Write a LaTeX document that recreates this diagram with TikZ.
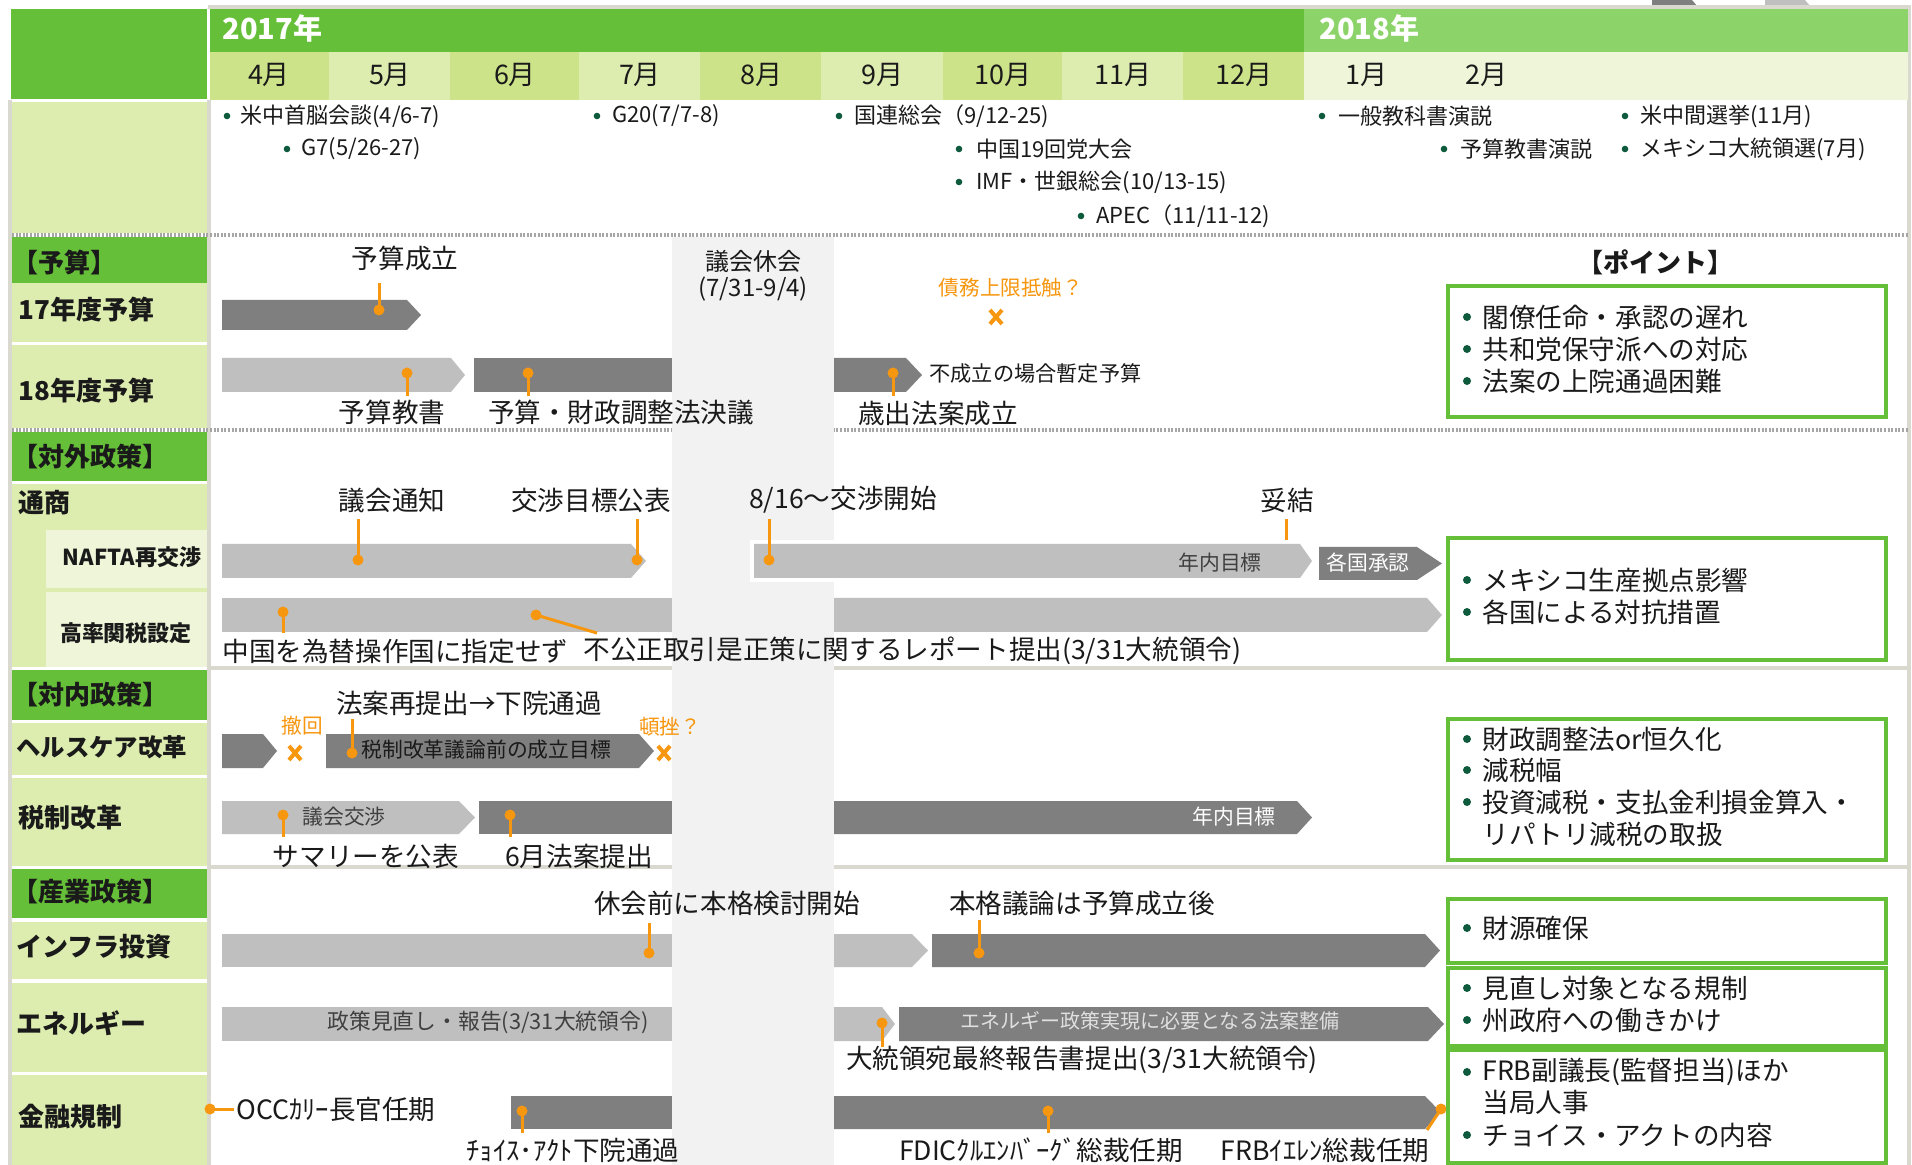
\documentclass[tikz,border=0pt]{standalone}
\usepackage{fontspec}
\setmainfont{Noto Sans CJK JP}
\usetikzlibrary{calc}
\definecolor{gA}{HTML}{66BF38}
\definecolor{gB}{HTML}{8CD46A}
\definecolor{mD}{HTML}{CDE38A}
\definecolor{mL}{HTML}{DDEDB0}
\definecolor{mX}{HTML}{EEF5D8}
\definecolor{dk}{HTML}{7F7F7F}
\definecolor{lt}{HTML}{BFBFBF}
\definecolor{bandc}{HTML}{F2F2F2}
\definecolor{org}{HTML}{F7960F}
\definecolor{bul}{HTML}{0E5A3C}
\definecolor{sepc}{HTML}{D9D9D0}
\definecolor{dotc}{HTML}{A6A6A6}
\definecolor{txt}{HTML}{1A1A1A}
\definecolor{bartxt}{HTML}{404040}
\newcommand{\chev}[6]{\fill[#6] (#1,#4) -- (#2,#4) -- (#3,{(#4+#5)/2}) -- (#2,#5) -- (#1,#5) -- cycle;}
\newcommand{\mypin}[3]{\coordinate (#1a) at (#2); \coordinate (#1b) at (#3); \draw[pinl] (#1a) -- (#1b); \fill[org] (#1b) circle (5.5);}
\newcommand{\xmk}[2]{\draw[org, line width=2pt] ({#1-6},{#2-7}) -- ({#1+6},{#2+7}) ({#1-6},{#2+7}) -- ({#1+6},{#2-7});}
\newcommand{\bdot}[2]{\fill[bul] (#1,#2) circle (3.3);}
\newcommand{\pdot}[2]{\fill[bul] (#1,#2) circle (4);}
\begin{document}
\begin{tikzpicture}[x=0.5pt,y=-0.5pt,
  T/.style={inner sep=0pt, text=txt, font=\fontsize{13.3}{15}\selectfont},
  S/.style={inner sep=0pt, text=txt, font=\fontsize{11}{13}\selectfont},
  BT/.style={inner sep=0pt, text=bartxt, font=\fontsize{10.4}{12}\selectfont},
  BW/.style={inner sep=0pt, text=white, font=\fontsize{10.4}{12}\selectfont},
  L/.style={inner sep=0pt, text=txt, font=\bfseries\fontsize{13}{15}\selectfont},
  LS/.style={inner sep=0pt, text=txt, font=\bfseries\fontsize{11}{12}\selectfont},
  H/.style={inner sep=0pt, text=txt, font=\bfseries\fontsize{13}{14}\selectfont},
  O/.style={inner sep=0pt, text=org, font=\fontsize{10.3}{12}\selectfont},
  M/.style={inner sep=0pt, text=txt, font=\fontsize{13.5}{15}\selectfont},
  Y/.style={inner sep=0pt, text=white, font=\bfseries\fontsize{14.5}{16}\selectfont},
  P/.style={inner sep=0pt, text=txt, font=\fontsize{13.3}{15}\selectfont},
  pinl/.style={draw=org, line width=1.5pt},
  pbox/.style={draw=gA, line width=1.6pt, fill=white},
  dotl/.style={draw=dotc, line width=1.8pt, dash pattern=on 1pt off 0.8pt},
  sepl/.style={draw=sepc, line width=1.6pt}]
\useasboundingbox (0,0) rectangle (1912,1165);
\fill[white] (0,0) rectangle (1912,1165);
% partial legend at top
\fill[dk] (1652,0) -- (1692,0) -- (1697,6) -- (1652,6) -- cycle;
\fill[lt] (1765,0) -- (1805,0) -- (1810,6) -- (1765,6) -- cycle;
% frame
\draw[sepl] (208,7) -- (1909,7) -- (1909,1165);
\draw[sepl] (10,100) -- (10,1165);
\draw[sepl] (209,100) -- (209,1165);
% header
\fill[gA] (11,9) rectangle (207,99);
\fill[gA] (210,9) rectangle (1304,52);
\fill[gB] (1304,9) rectangle (1908,52);
\fill[mD] (210,52) rectangle (329,100);
\fill[mL] (329,52) rectangle (450,100);
\fill[mD] (450,52) rectangle (579,100);
\fill[mL] (579,52) rectangle (700,100);
\fill[mD] (700,52) rectangle (821,100);
\fill[mL] (821,52) rectangle (943,100);
\fill[mD] (943,52) rectangle (1062,100);
\fill[mL] (1062,52) rectangle (1183,100);
\fill[mD] (1183,52) rectangle (1304,100);
\fill[mX] (1304,52) rectangle (1908,100);
\node[Y,anchor=west] (y17) at (222,28) {2017年};
\node[Y,anchor=west] (y18) at (1319,28) {2018年};
\node[M] (m4) at (269,75) {4月};
\node[M] (m5) at (390,75) {5月};
\node[M] (m6) at (515,75) {6月};
\node[M] (m7) at (640,75) {7月};
\node[M] (m8) at (761,75) {8月};
\node[M] (m9) at (882,75) {9月};
\node[M] (m10) at (1003,75) {10月};
\node[M] (m11) at (1123,75) {11月};
\node[M] (m12) at (1244,75) {12月};
\node[M] (m1) at (1366,75) {1月};
\node[M] (m2) at (1486,75) {2月};
% left column cells
\fill[mL] (12,102) rectangle (207,233);
\fill[gA] (12,237) rectangle (207,283);
\fill[mL] (12,283) rectangle (207,342);
\fill[mL] (12,345) rectangle (207,428);
\fill[gA] (12,432) rectangle (207,481);
\fill[mL] (12,484) rectangle (207,667);
\fill[mX] (46,530) rectangle (207,588);
\fill[mX] (46,592) rectangle (207,667);
\fill[gA] (12,670) rectangle (207,720);
\fill[mL] (12,723) rectangle (207,775);
\fill[mL] (12,778) rectangle (207,866);
\fill[gA] (12,869) rectangle (207,918);
\fill[mL] (12,922) rectangle (207,979);
\fill[mL] (12,983) rectangle (207,1072);
\fill[mL] (12,1075) rectangle (207,1165);
% separators
\draw[dotl] (12,235) -- (1908,235);
\draw[dotl] (12,430) -- (1908,430);
\draw[sepl] (210,668) -- (1908,668);
\draw[sepl] (210,867) -- (1908,867);
% left labels
\node[H,anchor=west] (hyosan) at (12,262) {【予算】};
\node[L,anchor=west] (l17) at (18,310) {17年度予算};
\node[L,anchor=west] (l18) at (18,391) {18年度予算};
\node[H,anchor=west] (htaigai) at (12,457) {【対外政策】};
\node[L,anchor=west] (ltsusho) at (18,503) {通商};
\node[LS] (lnafta) at (132,557) {NAFTA再交渉};
\node[LS] (lkanzei) at (126,633) {高率関税設定};
\node[H,anchor=west] (htainai) at (12,695) {【対内政策】};
\node[L,anchor=west,font=\bfseries\fontsize{12.2}{15}\selectfont] (lhc) at (16,747) {ヘルスケア改革};
\node[L,anchor=west] (lzei) at (18,818) {税制改革};
\node[H,anchor=west] (hsangyo) at (12,892) {【産業政策】};
\node[L,anchor=west] (linfra) at (16,947) {インフラ投資};
\node[L,anchor=west] (lene) at (16,1023) {エネルギー};
\node[L,anchor=west] (lkin) at (18,1117) {金融規制};
% events
\bdot{227}{116}\node[S,anchor=west] (e1) at (240,116) {米中首脳会談(4/6-7)};
\bdot{287}{149}\node[S,anchor=west] (e2) at (301,149) {G7(5/26-27)};
\bdot{597}{116}\node[S,anchor=west] (e3) at (612,116) {G20(7/7-8)};
\bdot{839}{116}\node[S,anchor=west] (e4) at (854,116) {国連総会（9/12-25)};
\bdot{959}{149}\node[S,anchor=west] (e5) at (976,149) {中国19回党大会};
\bdot{959}{182}\node[S,anchor=west] (e6) at (976,182) {IMF・世銀総会(10/13-15)};
\bdot{1081}{216}\node[S,anchor=west] (e7) at (1096,216) {APEC（11/11-12)};
\bdot{1322}{116}\node[S,anchor=west] (e8) at (1338,116) {一般教科書演説};
\bdot{1444}{149}\node[S,anchor=west] (e9) at (1460,149) {予算教書演説};
\bdot{1625}{116}\node[S,anchor=west] (e10) at (1640,116) {米中間選挙(11月)};
\bdot{1625}{149}\node[S,anchor=west] (e11) at (1640,149) {メキシコ大統領選(7月)};
% bars: budget
\chev{222}{407}{421}{300}{330}{dk}
\chev{222}{451}{465}{358}{392}{lt}
\fill[dk] (474,358) rectangle (700,392);
\chev{834}{906}{922}{358}{392}{dk}
% bars: trade
\chev{222}{631}{646}{544}{578}{lt}
\chev{1319}{1417}{1442}{547}{580}{dk}
\fill[lt] (222,598) rectangle (700,632);
\chev{834}{1427}{1442}{598}{632}{lt}
% bars: domestic
\chev{222}{263}{277}{734}{768}{dk}
\chev{326}{639}{654}{734}{768}{dk}
\chev{222}{459}{475}{801}{834}{lt}
\fill[dk] (479,801) rectangle (700,834);
\chev{834}{1297}{1312}{801}{834}{dk}
% bars: industry
\fill[lt] (222,934) rectangle (700,967);
\chev{834}{912}{928}{934}{967}{lt}
\chev{932}{1425}{1440}{934}{967}{dk}
\fill[lt] (222,1007) rectangle (700,1041);
\chev{834}{882}{895}{1007}{1041}{lt}
\chev{899}{1428}{1444}{1007}{1041}{dk}
\fill[dk] (511,1096) rectangle (700,1129);
\chev{834}{1425}{1441}{1096}{1129}{dk}
% recess band
\fill[bandc] (672,237) rectangle (834,1165);
\node[T,font=\fontsize{12}{14}\selectfont] (kyukai) at (753,261) {議会休会};
\node[T,font=\fontsize{12}{14}\selectfont] (kyukai2) at (753,289) {(7/31-9/4)};
% NAFTA second bar over band
\fill[white] (750,540) rectangle (1300,582);
\chev{754}{1300}{1312}{544}{578}{lt}
% bar texts
\node[BT] (t1) at (1220,563) {年内目標};
\node[BW] (t2) at (1368,563) {各国承認};
\node[BT,text=txt,anchor=west] (t3) at (361,750) {税制改革議論前の成立目標};
\node[BT] (t4) at (344,817) {議会交渉};
\node[BW] (t5) at (1234,817) {年内目標};
\node[BT,font=\fontsize{10.9}{12}\selectfont] (t6) at (488,1022) {政策見直し・報告(3/31大統領令)};
\node[BW,text=white!88!black,font=\fontsize{10}{12}\selectfont] (t7) at (1150,1021) {エネルギー政策実現に必要となる法案整備};
% budget labels and pins
\node[T] (n1) at (405,258) {予算成立};
\mypin{pa}{379,283}{379,310}
\node[O] (n2) at (1011,288) {債務上限抵触？};
\xmk{996}{317}
\mypin{pb}{407,396}{407,373}
\node[T] (n3) at (392,412) {予算教書};
\mypin{pc}{528,396}{528,373}
\node[T] (n4) at (621,412) {予算・財政調整法決議};
\mypin{pd}{893,396}{893,373}
\node[T] (n5) at (938,413) {歳出法案成立};
\node[S,anchor=west,font=\fontsize{10.6}{13}\selectfont] (n6) at (929,373) {不成立の場合暫定予算};
% trade labels and pins
\node[T] (n7) at (392,500) {議会通知};
\mypin{pe}{358,519}{358,560}
\node[T] (n8) at (591,500) {交渉目標公表};
\mypin{pf}{637,519}{637,560}
\node[T] (n9) at (843,500) {8/16～交渉開始};
\mypin{pg}{769,519}{769,560}
\node[T] (n10) at (1287,500) {妥結};
\coordinate (pha) at (1286,519); \coordinate (phb) at (1286,540);
\draw[pinl] (pha) -- (phb);
\mypin{pi}{283,633}{283,612}
\mypin{pj}{597,633}{536,615}
\node[T,anchor=west] (n11) at (222,651) {中国を為替操作国に指定せず};
\node[T,anchor=west] (n12) at (583,651) {不公正取引是正策に関するレポート提出(3/31大統領令)};
% domestic labels and pins
\node[T] (n13) at (469,703) {法案再提出→下院通過};
\node[O] (n14) at (302,726) {撤回};
\xmk{295}{753}
\mypin{pk}{352,719}{352,753}
\node[O] (n15) at (670,727) {頓挫？};
\xmk{664}{753}
\mypin{pl}{283,837}{283,815}
\node[T] (n16) at (366,856) {サマリーを公表};
\mypin{pm}{510,837}{510,815}
\node[T] (n17) at (579,856) {6月法案提出};
% industry labels and pins
\node[T] (n18) at (727,903) {休会前に本格検討開始};
\mypin{pn}{649,923}{649,953}
\node[T] (n19) at (1082,903) {本格議論は予算成立後};
\mypin{po}{979,920}{979,953}
\mypin{pp}{882,1047}{882,1023}
\node[T] (n20) at (1082,1060) {大統領宛最終報告書提出(3/31大統領令)};
\coordinate (pqa) at (234,1109); \coordinate (pqb) at (210,1109);
\draw[pinl] (pqa) -- (pqb); \fill[org] (pqb) circle (5.5);
\node[T,anchor=west] (n21) at (236,1109) {OCCｶﾘｰ長官任期};
\mypin{pr}{522,1133}{522,1111}
\node[T] (n22) at (573,1150) {ﾁｮｲｽ･ｱｸﾄ下院通過};
\mypin{ps}{1048,1133}{1048,1111}
\node[T] (n23) at (1041,1150) {FDICｸﾙｴﾝﾊﾞｰｸﾞ総裁任期};
\mypin{pt}{1427,1130}{1441,1109}
\node[T] (n24) at (1325,1150) {FRBｲｴﾚﾝ総裁任期};
% point boxes
\node[H,font=\bfseries\fontsize{13}{14}\selectfont] (pt0) at (1655,262) {【ポイント】};
\draw[pbox] (1448,286) rectangle (1886,417);
\pdot{1467}{317}\node[P,anchor=west] (q1) at (1482,317) {閣僚任命・承認の遅れ};
\pdot{1467}{349}\node[P,anchor=west] (q2) at (1482,349) {共和党保守派への対応};
\pdot{1467}{381}\node[P,anchor=west] (q3) at (1482,381) {法案の上院通過困難};
\draw[pbox] (1448,538) rectangle (1886,660);
\pdot{1467}{580}\node[P,anchor=west] (q4) at (1482,580) {メキシコ生産拠点影響};
\pdot{1467}{612}\node[P,anchor=west] (q5) at (1482,612) {各国による対抗措置};
\draw[pbox] (1448,719) rectangle (1886,860);
\pdot{1467}{739}\node[P,anchor=west] (q6) at (1482,739) {財政調整法or恒久化};
\pdot{1467}{770}\node[P,anchor=west] (q7) at (1482,770) {減税幅};
\pdot{1467}{802}\node[P,anchor=west] (q8) at (1482,802) {投資減税・支払金利損金算入・};
\node[P,anchor=west] (q9) at (1482,834) {リパトリ減税の取扱};
\draw[pbox] (1448,899) rectangle (1886,963);
\pdot{1467}{928}\node[P,anchor=west] (q10) at (1482,928) {財源確保};
\draw[pbox] (1448,968) rectangle (1886,1046);
\pdot{1467}{988}\node[P,anchor=west] (q11) at (1482,988) {見直し対象となる規制};
\pdot{1467}{1020}\node[P,anchor=west] (q12) at (1482,1020) {州政府への働きかけ};
\draw[pbox] (1448,1050) rectangle (1886,1163);
\pdot{1467}{1072}\node[P,anchor=west] (q13) at (1482,1072) {FRB副議長(監督担当)ほか};
\node[P,anchor=west] (q14) at (1482,1102) {当局人事};
\pdot{1467}{1135}\node[P,anchor=west] (q15) at (1482,1135) {チョイス・アクトの内容};
\end{tikzpicture}
\end{document}
